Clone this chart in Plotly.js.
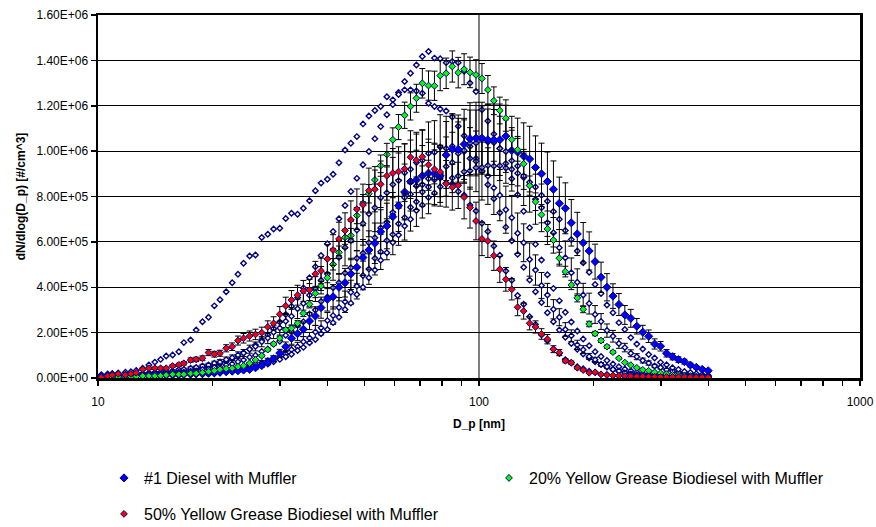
<!DOCTYPE html>
<html>
<head>
<meta charset="utf-8">
<script src="https://cdn.plot.ly/plotly-3.0.1.min.js"></script>
<style>
  html, body { margin: 0; padding: 0; background: #fff; }
  #chart { width: 876px; height: 527px; }
</style>
</head>
<body>
<div id="chart"></div>
<script>
// SMPS channel mid-point diameters [nm], 64 channels per decade
const diameters = [10.2,10.6,10.9,11.3,11.8,12.2,12.6,13.1,13.6,14.1,
  14.6,15.1,15.7,16.3,16.8,17.5,18.1,18.8,19.5,20.2,
  20.9,21.7,22.5,23.3,24.1,25.0,25.9,26.9,27.9,28.9,
  30.0,31.1,32.2,33.4,34.6,35.9,37.2,38.5,40.0,41.4,
  42.9,44.5,46.1,47.8,49.6,51.4,53.3,55.2,57.3,59.4,
  61.5,63.8,66.1,68.5,71.0,73.7,76.4,79.1,82.0,85.1,
  88.2,91.4,94.7,98.2,101.8,105.5,109.4,113.4,117.6,121.9,
  126.3,131.0,135.8,140.7,145.9,151.2,156.8,162.5,168.5,174.7,
  181.1,187.7,194.6,201.7,209.1,216.7,224.7,232.9,241.4,250.3,
  259.5,269.0,278.8,289.0,299.6,310.6,322.0,333.8,346.0,358.7,
  371.8,385.4,399.5];

// Size distributions, dN/dlog(Dp) in thousands of #/cm^3
const diesel = [8,9,10,9,10,11,11,12,12,13,
  14,15,15,16,17,18,19,20,22,24,
  26,28,30,32,35,38,45,55,68,85,
  110,138,175,195,215,251,273,310,347,358,
  400,420,459,488,531,564,594,645,670,711,
  760,820,866,873,891,903,900,891,983,1008,
  1008,1030,1055,1057,1057,1050,1050,1050,1066,1003,
  996,978,965,928,900,866,832,770,748,684,
  635,596,560,513,444,400,361,324,278,263,
  228,202,184,150,140,109,94,81,72,57,
  47,38,32];

const yg20 = [3,4,5,5,6,6,7,9,9,9,
  10,13,16,16,16,20,20,24,28,32,
  38,41,43,50,54,65,80,98,125,150,
  175,212,219,241,285,325,373,406,442,501,
  554,620,628,716,770,812,873,936,985,1050,
  1106,1158,1197,1233,1299,1289,1288,1333,1343,1373,
  1346,1361,1347,1336,1320,1270,1222,1179,1145,1051,
  1006,944,848,777,720,657,608,528,469,410,
  353,303,238,196,165,138,114,87,68,57,
  45,36,32,25,21,17,14,12,10,9,
  7,6,6];

const yg50 = [3,9,13,18,13,18,23,38,43,43,
  43,43,53,58,65,79,82,87,112,105,
  109,131,138,165,175,185,192,200,225,241,
  281,318,344,365,384,388,459,472,525,564,
  613,650,697,744,763,826,832,854,891,903,
  910,922,973,960,975,940,920,908,856,841,
  849,797,751,692,613,604,539,479,435,391,
  312,295,241,225,194,171,127,112,76,67,
  45,35,23,25,16,13,11,10,9,8,
  7,7,6,6,5,5,5,4,4,4,
  3,3,3];

// Individual scans (not in legend)
const scanA = [15,18,20,22,25,28,33,43,57,70,
  82,97,101,116,156,168,212,248,268,318,
  345,380,420,457,506,538,542,619,634,657,
  660,703,726,722,748,781,825,859,876,898,
  949,1005,1035,1064,1120,1155,1179,1197,1240,1226,
  1258,1270,1270,1265,1255,1211,1197,1186,1177,1150,
  1110,1068,1020,968,912,852,790,728,665,605,
  545,488,432,380,333,288,248,212,180,152,
  127,106,88,72,59,48,39,31,25,20,
  16,13,10,8,7,6,5,5,4,4,
  3,3,3];

const scanB = [8,9,10,11,12,13,14,16,17,19,
  21,23,25,28,31,35,39,44,50,57,
  65,74,85,97,111,127,145,166,190,217,
  247,280,316,355,397,442,490,540,592,646,
  702,760,822,880,940,998,1055,1108,1160,1205,
  1250,1307,1343,1380,1417,1439,1410,1407,1390,1395,
  1390,1352,1300,1263,1182,1133,1075,1012,945,878,
  808,735,662,590,520,455,395,340,290,247,
  207,172,142,116,95,77,62,50,40,32,
  25,20,16,13,10,8,7,6,5,4,
  4,3,3];

const scanC = [10,12,12,14,16,15,18,21,22,25,
  26,30,31,36,38,43,46,53,57,65,
  71,81,89,101,110,127,139,160,176,202,
  220,250,272,305,328,365,392,431,458,501,
  532,575,606,652,681,724,750,794,816,853,
  870,905,920,950,960,990,995,1018,1012,1022,
  1004,998,968,955,912,890,838,806,742,706,
  638,596,522,476,408,366,303,268,214,186,
  146,125,95,80,60,50,37,31,22,18,
  14,11,9,8,7,6,5,5,4,4,
  3,3,3];

const scanD = [6,8,8,10,11,11,13,15,15,18,
  18,21,22,25,26,30,31,37,39,46,
  49,57,62,72,79,92,100,117,128,150,
  162,188,203,232,248,282,300,337,357,398,
  420,463,486,528,550,596,618,661,686,730,
  755,795,810,846,852,878,874,882,860,856,
  822,806,762,736,682,646,582,541,472,431,
  364,325,270,236,190,164,127,108,81,68,
  50,41,30,25,17,15,11,9,7,6,
  5,5,4,4,3,3,3,3,2,2,
  2,2,2];

const scanE = [5,6,6,7,7,8,9,9,10,11,
  11,12,13,15,15,17,18,20,21,24,
  27,31,35,40,46,52,59,67,76,85,
  95,106,125,138,160,176,203,221,253,275,
  311,336,378,405,452,480,528,556,606,632,
  680,707,753,777,820,842,882,900,932,950,
  990,1004,1036,1036,1052,1040,1038,1012,998,958,
  934,884,850,788,750,684,640,574,530,464,
  422,366,328,280,249,209,184,152,134,109,
  94,77,66,53,46,36,31,24,20,16,
  13,11,9];

const scanF = [4,4,5,5,6,6,6,7,8,8,
  8,9,10,11,12,13,15,15,17,19,
  22,25,28,32,36,41,47,54,62,72,
  82,94,105,121,135,155,170,195,214,244,
  268,302,330,368,400,442,476,519,552,597,
  630,670,700,738,762,796,815,843,857,881,
  890,909,913,927,928,937,934,936,926,920,
  902,890,863,842,806,779,734,700,650,610,
  560,508,466,412,372,322,288,244,214,178,
  150,128,104,88,69,58,45,38,29,24,
  19,15,12];

const UNIT = 1000; // table values are in thousands
const scale = arr => arr.map(v => v * UNIT);

const legendNames = ['#1 Diesel with Muffler',
  '20% Yellow Grease Biodiesel with Muffler',
  '50% Yellow Grease Biodiesel with Muffler'];

const yTicks = [0, 2e5, 4e5, 6e5, 8e5, 1e6, 1.2e6, 1.4e6, 1.6e6];
const xTicks = [10,20,30,40,50,60,70,80,90,100,200,300,400,500,600,700,800,900,1000];
const xLabeled = [10, 100, 1000];

function sci(v) {
  const parts = v.toExponential(2).split('e');
  const e = parseInt(parts[1], 10);
  return parts[0] + 'E' + (e < 0 ? '-' : '+') + String(Math.abs(e)).padStart(2, '0');
}

const NAVY = '#000080';
const FONT = 'Liberation Sans, Arial, Helvetica, sans-serif';

function openScan(vals, withErr) {
  const t = {
    x: diameters, y: scale(vals), type: 'scatter', mode: 'markers',
    showlegend: false, hoverinfo: 'skip',
    marker: { symbol: 'diamond', size: 4.2, color: '#ffffff', line: { color: NAVY, width: 1.4 } }
  };
  if (withErr) t.error_y = { type: 'percent', value: withErr, color: '#000', thickness: 1, width: 3 };
  return t;
}

function filled(vals, name, color, size, errPct, legend) {
  return {
    x: diameters, y: scale(vals), type: 'scatter', mode: 'markers', name: name,
    legend: legend,
    marker: { symbol: 'diamond', size: size, color: color, line: { color: NAVY, width: 1 } },
    error_y: { type: 'percent', value: errPct, color: '#000', thickness: 1, width: 3 }
  };
}

const traces = [
  openScan(scanA, 0),
  openScan(scanB, 0),
  openScan(scanC, 14),
  openScan(scanD, 0),
  openScan(scanE, 14),
  openScan(scanF, 0),
  filled(diesel, legendNames[0], '#0000FF', 6.2, 15, 'legend'),
  filled(yg20, legendNames[1], '#00FF00', 5.2, 5, 'legend2'),
  filled(yg50, legendNames[2], '#FF0000', 5.2, 12, 'legend3')
];

// plot area spans x 98..860 px and y 15..378 px of the figure
const PLOT = { l: 98, r: 860, t: 15, b: 378 };
const legendFont = { family: FONT, size: 16, color: '#000' };
function legendAt(xpx, ypx) {
  return { x: (xpx - PLOT.l) / (PLOT.r - PLOT.l), y: (PLOT.b - ypx) / (PLOT.b - PLOT.t),
    xanchor: 'left', yanchor: 'middle', xref: 'paper', yref: 'paper',
    bgcolor: 'rgba(0,0,0,0)', borderwidth: 0, font: legendFont, itemsizing: 'trace' };
}

const layout = {
  width: 876, height: 527,
  margin: { l: PLOT.l, r: 876 - PLOT.r, t: PLOT.t, b: 527 - PLOT.b, pad: 0, autoexpand: false },
  paper_bgcolor: '#ffffff', plot_bgcolor: '#ffffff',
  font: { family: FONT, size: 12, color: '#000' },
  showlegend: true,
  xaxis: {
    type: 'log', range: [1, 3],
    tickvals: xTicks,
    ticktext: xTicks.map(v => xLabeled.includes(v) ? String(v) : ''),
    ticks: 'outside', ticklen: 5, tickwidth: 1.5, tickcolor: '#000',
    showgrid: false, zeroline: false,
    showline: true, linecolor: '#000', linewidth: 2.5, mirror: true,
    tickfont: { family: FONT, size: 12, color: '#000' },
    ticklabelstandoff: 6,
    title: { text: '<b>D_p [nm]</b>', font: { family: FONT, size: 12, color: '#000' }, standoff: 12 }
  },
  // companion axis: inner halves of the crossing x ticks
  xaxis2: {
    type: 'log', range: [1, 3], overlaying: 'x', anchor: 'y', side: 'bottom',
    tickvals: xTicks, ticktext: xTicks.map(() => ''),
    ticks: 'inside', ticklen: 4, tickwidth: 1.5, tickcolor: '#000',
    showgrid: false, zeroline: false, showline: false, showticklabels: false
  },
  yaxis: {
    range: [0, 1.6e6],
    tickvals: yTicks, ticktext: yTicks.map(sci),
    ticks: 'outside', ticklen: 5, tickwidth: 1.5, tickcolor: '#000',
    showgrid: true, gridcolor: '#000', gridwidth: 1,
    zeroline: false,
    showline: true, linecolor: '#000', linewidth: 2.5, mirror: true,
    tickfont: { family: FONT, size: 12, color: '#000' },
    title: { text: '<b>dN/dlog(D_p) [#/cm^3]</b>', font: { family: FONT, size: 12, color: '#000' }, standoff: 8 }
  },
  shapes: [
    { type: 'line', xref: 'x', yref: 'paper', x0: 100, x1: 100, y0: 0, y1: 1,
      line: { color: '#000', width: 1 }, layer: 'below' }
  ],
  legend: legendAt(104, 478),
  legend2: legendAt(489, 478),
  legend3: legendAt(104, 514)
};

Plotly.newPlot('chart', traces, layout, { displayModeBar: false, staticPlot: true });
</script>
</body>
</html>
